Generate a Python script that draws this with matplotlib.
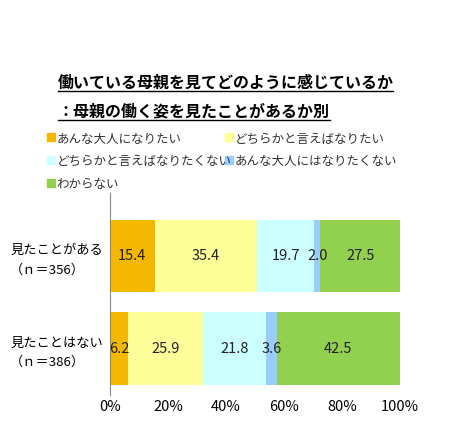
import matplotlib.pyplot as plt
from matplotlib.lines import Line2D
from matplotlib.patches import Rectangle

plt.rcParams['font.family'] = ['Noto Sans CJK JP', 'DejaVu Sans']

groups = ['見たことがある\n（ｎ＝356）', '見たことはない\n（ｎ＝386）']
series = ['あんな大人になりたい', 'どちらかと言えばなりたい', 'どちらかと言えばなりたくない',
          'あんな大人にはなりたくない', 'わからない']
values = [[15.4, 35.4, 19.7, 2.0, 27.5],
          [6.2, 25.9, 21.8, 3.6, 42.5]]
colors = ['#F5B800', '#FFFF99', '#CCFFFF', '#99CCFF', '#92D050']

fig = plt.figure(figsize=(4.53, 4.40), dpi=100)
ax = fig.add_axes([0.243, 0.102, 0.64, 0.46])

ypos = [0, 1]
for gi, vals in enumerate(values):
    left = 0
    for si, v in enumerate(vals):
        ax.barh(ypos[gi], v, left=left, height=0.78, color=colors[si])
        ax.text(left + v / 2, ypos[gi], f'{v:.1f}', ha='center', va='center', fontsize=10.5, color='#222222')
        left += v

ax.set_xlim(0, 100)
ax.set_ylim(1.5, -0.68)
ax.set_xticks(range(0, 101, 20))
ax.set_xticklabels([f'{t}%' for t in range(0, 101, 20)], fontsize=10.5)
ax.set_yticks(ypos)
ax.set_yticklabels(groups, fontsize=9.5, ha='left', linespacing=1.6)
ax.tick_params(axis='y', length=0, pad=72)
ax.tick_params(axis='x', length=0)
for s in ['top', 'right', 'bottom']:
    ax.spines[s].set_visible(False)
ax.spines['left'].set_color('#888888')

# title with underline
fig.text(0.128, 0.8, '働いている母親を見てどのように感じているか', fontsize=11.5, fontweight='bold')
fig.text(0.128, 0.735, '：母親の働く姿を見たことがあるか別', fontsize=11.5, fontweight='bold')
fig.lines.append(Line2D([0.128, 0.868], [0.793, 0.793], transform=fig.transFigure, color='black', lw=1))
fig.lines.append(Line2D([0.128, 0.728], [0.728, 0.728], transform=fig.transFigure, color='black', lw=1))

# legend
legend_pos = [(0.104, 0.676), (0.497, 0.676), (0.104, 0.624), (0.497, 0.624), (0.104, 0.572)]
for (x, y), name, c in zip(legend_pos, series, colors):
    fig.patches.append(Rectangle((x, y + 0.004), 0.018, 0.018, transform=fig.transFigure, color=c))
    fig.text(x + 0.021, y, name, fontsize=9, color='#333333')

fig.savefig('out.png')
